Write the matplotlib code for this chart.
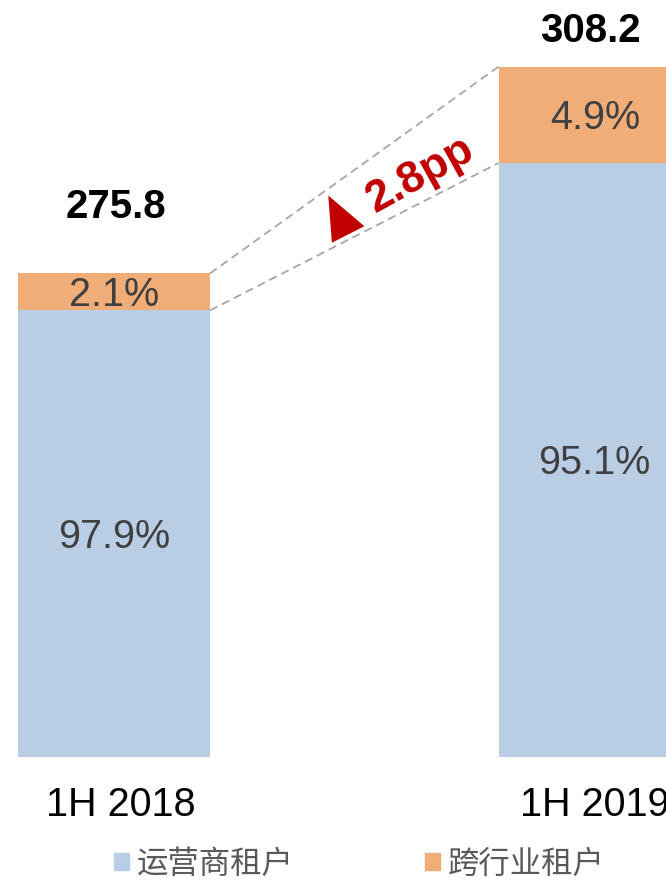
import matplotlib
matplotlib.use("Agg")
import matplotlib.pyplot as plt
import matplotlib.transforms as mtransforms
import numpy as np
from matplotlib.markers import MarkerStyle
from matplotlib.path import Path
from matplotlib.patches import Patch

plt.rcParams['font.family'] = ['Liberation Sans', 'Noto Sans CJK SC', 'DejaVu Sans']
plt.rcParams['lines.scale_dashes'] = False

# ---- data ----
periods = ["1H 2018", "1H 2019"]
totals = [275.8, 308.2]
cross_share = [2.1, 4.9]          # 跨行业租户 %
operator_share = [97.9, 95.1]     # 运营商租户 %
series_names = ["运营商租户", "跨行业租户"]
change_label = "2.8pp"

# ---- style ----
c_blue = "#B9CDE5"
c_orange = "#F0AD78"
c_red = "#C00000"
c_dash = "#A6A6A6"
c_txt = "#404040"

fig = plt.figure(figsize=(6.66, 8.84), dpi=100)
ax = fig.add_axes([0, (884 - 757.3) / 884, 1, 757.3 / 884])
y_bottom = 200
ax.set_ylim(y_bottom, y_bottom + 757.3 / 6.383)
ax.set_xlim(-113.75 / 481, (666 - 113.75) / 481)
for s in ax.spines.values():
    s.set_visible(False)
ax.set_yticks([])

x = np.arange(len(periods))
w = 0.4
totals_a = np.array(totals)
orange_v = totals_a * np.array(cross_share) / 100
blue_v = totals_a - orange_v

ax.bar(x, blue_v, w, color=c_blue, zorder=2)
ax.bar(x, orange_v, w, bottom=blue_v, color=c_orange, zorder=2)

ax.set_xticks(x)
ax.set_xticklabels(periods, fontsize=28.5, color="black")
ax.tick_params(axis='x', length=0, pad=20.5)
label_shift_pt = [5, 0]
for lbl, dx in zip(ax.get_xticklabels(), label_shift_pt):
    lbl.set_transform(lbl.get_transform() +
                      mtransforms.ScaledTranslation(dx / 72, 0, fig.dpi_scale_trans))

# segment labels (baseline placed, shifted by half cap height)
half_cap = -10
for i in range(len(periods)):
    ax.annotate(f"{operator_share[i]:.1f}%", (x[i], (y_bottom + blue_v[i]) / 2),
                xytext=(0, half_cap), textcoords='offset points',
                ha='center', va='baseline', fontsize=28.5, color=c_txt, zorder=3)
    ax.annotate(f"{cross_share[i]:.1f}%", (x[i], blue_v[i] + orange_v[i] / 2),
                xytext=(0, half_cap), textcoords='offset points',
                ha='center', va='baseline', fontsize=28.5, color=c_txt, zorder=3)

# total labels
offsets = [(1.5, 39.7), (-3, 18)]
for i in range(len(periods)):
    ax.annotate(f"{totals[i]:.1f}", (x[i], totals[i]), xytext=offsets[i],
                textcoords='offset points', ha='center', va='baseline',
                fontsize=29, fontweight='bold', color='black')

# dashed connectors
ax.plot([x[0] + w / 2, x[1] - w / 2], [totals[0], totals[1]], color=c_dash,
        lw=1.3, dashes=(6, 3.6), zorder=1)
ax.plot([x[0] + w / 2, x[1] - w / 2], [blue_v[0], blue_v[1]], color=c_dash,
        lw=1.3, dashes=(6, 3.6), zorder=1)

# triangle and change text
tri = Path([(0, 0.8), (-0.5, -0.4), (0.5, -0.4), (0, 0.8)],
           [Path.MOVETO, Path.LINETO, Path.LINETO, Path.CLOSEPOLY])
ms = MarkerStyle(tri).rotated(deg=27)
ax.plot([0.4716], [284.0], marker=ms, markersize=42, color=c_red,
        markeredgewidth=0, linestyle='none', zorder=3)
ax.text(0.637, 291.2, change_label, rotation=29, rotation_mode='anchor',
        ha='center', va='center', fontsize=32, fontweight='bold', color=c_red)

# legend
handles = [Patch(color=c_blue), Patch(color=c_orange)]
fig.legend(handles, series_names, loc='center', ncol=2,
           bbox_to_anchor=(359.5 / 666, 1 - 865 / 884), frameon=False,
           fontsize=22.6, labelcolor="#595959", handlelength=0.47,
           handleheight=0.47, handletextpad=0.24, columnspacing=4.2)

fig.savefig("out.png", dpi=100)
